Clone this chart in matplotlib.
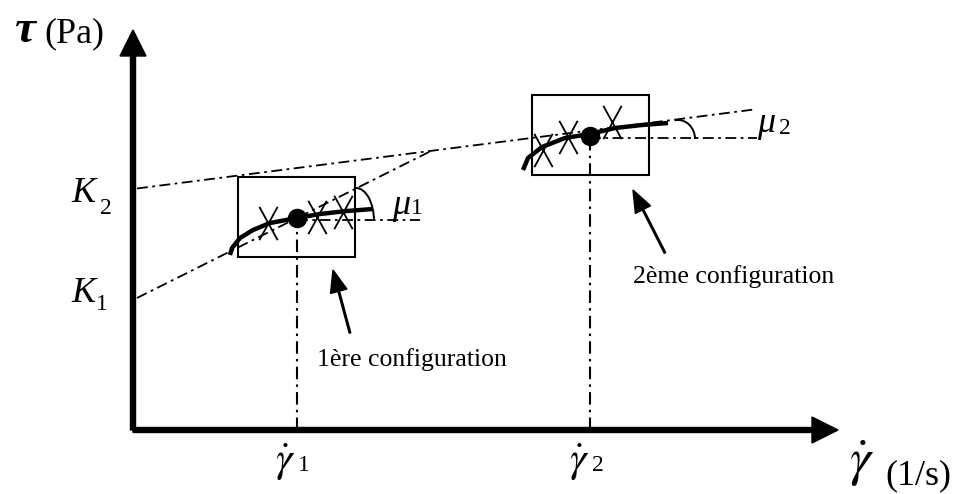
import matplotlib.pyplot as plt
from matplotlib.patches import Arc, Rectangle
from matplotlib.path import Path

plt.rcParams['mathtext.fontset'] = 'stix'
plt.rcParams['font.family'] = ['Liberation Serif', 'DejaVu Serif']

# schéma : seuils K1, K2 et pentes des tangentes
K = [130, 241]
pentes = [0.50, 0.128]
fin_k2 = 622

# points de fonctionnement (gamma_point, tau)
gam = [164, 457]
tau = [212, 294]

# courbes d'écoulement
c1_x = [97, 99, 107, 120, 137, 164, 187, 214, 240]
c1_y = [175, 182, 192, 200, 207, 212, 216, 219, 221]
c2_x = [390, 395, 409, 432, 457, 482, 509, 535]
c2_y = [260, 272, 283, 292, 296, 302, 305, 307]

# mesures (croix)
m1_x = [135, 184, 210]
m1_y = [207, 213, 218]
m2_x = [410, 435, 479]
m2_y = [280, 293, 308]

# cadres des configurations (x0, y0, largeur, hauteur)
cadres = [(105, 173, 117, 80), (399, 255, 117, 80)]
fin_h = [287, 624]

fig = plt.figure(figsize=(9.58, 4.94), dpi=100)
ax = fig.add_axes([0, 0, 1, 1])
ax.set_xlim(-133, 825)
ax.set_ylim(-64, 430)
ax.axis('off')

# axes avec flèches
ax.arrow(0, 0, 0, 400, width=5, head_width=26, head_length=26,
         length_includes_head=True, fc='k', ec='k')
ax.arrow(0, 0, 705, 0, width=5, head_width=26, head_length=26,
         length_includes_head=True, fc='k', ec='k')

ls = (0, (6, 2.5, 1.5, 2.5))
# tangentes
xi = (K[1] - K[0]) / (pentes[0] - pentes[1])
ax.plot([4, xi], [K[0] + pentes[0] * 4, K[0] + pentes[0] * xi], 'k', lw=1.3, ls=ls)
ax.plot([4, fin_k2], [K[1] + pentes[1] * 4, K[1] + pentes[1] * fin_k2], 'k', lw=1.3, ls=ls)

for i in range(2):
    ax.plot([gam[i], gam[i]], [0, tau[i]], 'k', lw=1.5, ls=(0, (6, 2.5, 1.2, 2.5)))
    ax.plot([gam[i], fin_h[i]], [tau[i] - 2, tau[i] - 2], 'k', lw=1.3, ls=ls)
    x0, y0, w, h = cadres[i]
    ax.add_patch(Rectangle((x0, y0), w, h, fill=False, lw=1.5, ec='k'))

ax.plot(c1_x, c1_y, 'k', lw=3.2, solid_capstyle='butt')
ax.plot(c2_x, c2_y, 'k', lw=3.2, solid_capstyle='butt')

croix = Path([(-0.55, -1), (0.55, 1), (-0.55, 1), (0.55, -1)],
             [Path.MOVETO, Path.LINETO, Path.MOVETO, Path.LINETO])
ax.plot(m1_x, m1_y, ls='none', marker=croix, ms=24, mec='k', mfc='none', mew=1.3)
ax.plot(m2_x, m2_y, ls='none', marker=croix, ms=24, mec='k', mfc='none', mew=1.3)
ax.plot(gam, tau, 'ko', ms=13)

# angles
ax.add_patch(Arc((223, 209), 36, 66, theta1=0, theta2=90, lw=1.4, color='k'))
ax.add_patch(Arc((545, 291), 34, 38, theta1=0, theta2=100, lw=1.4, color='k'))

# flèches vers les cadres
ax.arrow(217, 97, -17, 63, width=1.6, head_width=17, head_length=22,
         length_includes_head=True, fc='k', ec='k')
ax.arrow(532, 177, -32, 63, width=1.6, head_width=17, head_length=22,
         length_includes_head=True, fc='k', ec='k')

# textes
ax.text(-108, 399, 'τ', fontsize=34, fontstyle='italic', fontweight='bold',
        ha='center', va='center')
ax.text(-59, 396, '(Pa)', fontsize=26, ha='center', va='center')

ax.text(-50, 237, 'K', fontsize=26, fontstyle='italic', ha='center', va='center')
ax.text(-27, 221, '2', fontsize=17, ha='center', va='center')
ax.text(-50, 137, 'K', fontsize=26, fontstyle='italic', ha='center', va='center')
ax.text(-31, 125, '1', fontsize=17, ha='center', va='center')

ax.text(268, 224, 'μ', fontsize=26, fontstyle='italic', ha='center', va='center')
ax.text(284, 221, '1', fontsize=17, ha='center', va='center')
ax.text(633, 307, 'μ', fontsize=26, fontstyle='italic', ha='center', va='center')
ax.text(652, 302, '2', fontsize=17, ha='center', va='center')

ax.text(152, -32, r'$\dot{\gamma}$', fontsize=30, ha='center', va='center')
ax.text(171, -35, '1', fontsize=17, ha='center', va='center')
ax.text(446, -32, r'$\dot{\gamma}$', fontsize=30, ha='center', va='center')
ax.text(465, -35, '2', fontsize=17, ha='center', va='center')
ax.text(729, -34, r'$\dot{\gamma}$', fontsize=38, ha='center', va='center')
ax.text(785, -46, '(1/s)', fontsize=26, ha='center', va='center')

ax.text(184, 70, '1ère configuration', fontsize=18.5, ha='left', va='center')
ax.text(500, 153, '2ème configuration', fontsize=18.5, ha='left', va='center')

fig.savefig('out.png', dpi=100)
